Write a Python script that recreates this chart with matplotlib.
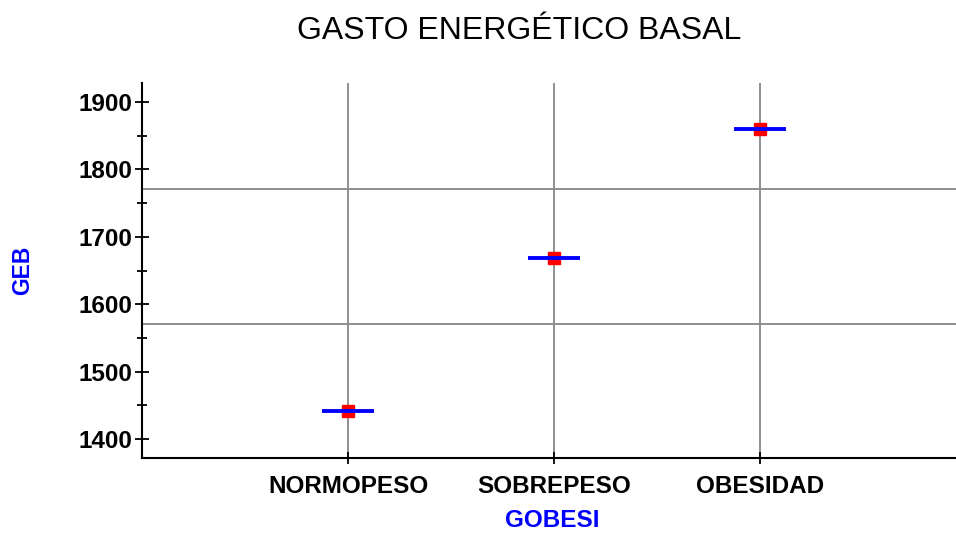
import matplotlib
matplotlib.use("Agg")
import matplotlib.pyplot as plt
from matplotlib.ticker import MultipleLocator

# datos
categorias = ["NORMOPESO", "SOBREPESO", "OBESIDAD"]
geb_medias = [1442, 1669, 1860]
lineas_ref = [1771, 1571]   # lineas horizontales grises

plt.rcParams["font.family"] = ["Liberation Sans", "DejaVu Sans"]

fig = plt.figure(figsize=(9.56, 5.35), dpi=100)
ax = fig.add_axes([142 / 956, 1 - 458 / 535, 1 - 142 / 956, (458 - 83) / 535])

pos = [1, 2, 3]
gris = "#8f8f8f"
for p in pos:
    ax.axvline(p, color=gris, lw=1.4, zorder=1)
for y in lineas_ref:
    ax.axhline(y, color=gris, lw=1.4, zorder=1)

# cuadrado rojo debajo de la barra azul
ax.plot(pos, geb_medias, "s", color="red", ms=8.5, mec="red", zorder=3, linestyle="none")
ax.hlines(geb_medias, [p - 0.125 for p in pos], [p + 0.125 for p in pos],
          colors="blue", lw=2.8, zorder=4)

ax.set_xlim(0, 3.95)
ax.set_ylim(1372, 1928)
ax.set_xticks(pos)
ax.set_xticklabels(categorias)
ax.yaxis.set_major_locator(MultipleLocator(100))
ax.yaxis.set_minor_locator(MultipleLocator(50))

for s in ["top", "right"]:
    ax.spines[s].set_visible(False)
for s in ["left", "bottom"]:
    ax.spines[s].set_linewidth(1.5)
    ax.spines[s].set_color("black")

ax.tick_params(axis="y", which="major", direction="inout", length=10, width=1.3,
               labelsize=17.5, pad=2)
ax.tick_params(axis="y", which="minor", direction="inout", length=7, width=1.3)
ax.tick_params(axis="x", direction="inout", length=8, width=1.3, labelsize=17.5, pad=8)
for lab in ax.get_xticklabels() + ax.get_yticklabels():
    lab.set_fontweight("bold")

ax.set_title("GASTO ENERGÉTICO BASAL", fontsize=23, pad=32, x=(519 - 142) / (956 - 142))
ax.set_ylabel("GEB", color="blue", fontsize=16.5, fontweight="bold", labelpad=32)
ax.set_xlabel("GOBESI", color="blue", fontsize=17.5, fontweight="bold")
ax.xaxis.set_label_coords((552 - 142) / (956 - 142), -0.135)

fig.savefig("out.png", dpi=100)
